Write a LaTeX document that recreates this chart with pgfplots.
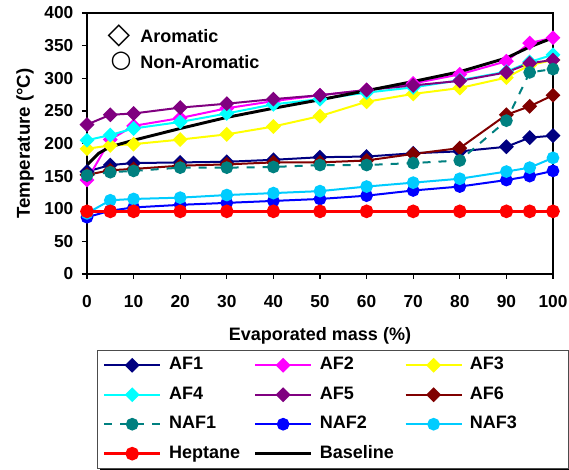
\documentclass[border=0pt]{standalone}
\usepackage{fontspec}
\setmainfont{Liberation Sans}
\newfontfamily\symfont{DejaVu Sans}
\usepackage{pgfplots}
\pgfplotsset{compat=1.18}
\definecolor{cAFa}{RGB}{0,0,128}
\definecolor{cAFb}{RGB}{255,0,255}
\definecolor{cAFc}{RGB}{255,255,0}
\definecolor{cAFd}{RGB}{0,255,255}
\definecolor{cAFe}{RGB}{128,0,128}
\definecolor{cAFf}{RGB}{128,0,0}
\definecolor{cNAFa}{RGB}{0,128,128}
\definecolor{cNAFb}{RGB}{0,0,255}
\definecolor{cNAFc}{RGB}{0,204,255}
\definecolor{cHep}{RGB}{255,0,0}
\begin{document}
\begin{tikzpicture}
\path[use as bounding box] (-65.25pt,-147pt) rectangle (361.5pt,205.5pt);
\begin{axis}[
  at={(0pt,0pt)}, anchor=south west,
  scale only axis, width=349.5pt, height=195.75pt,
  xmin=0, xmax=100, ymin=0, ymax=400,
  xtick={0,10,...,100}, ytick={0,50,...,400},
  tick pos=left, tick align=outside, major tick length=3.75pt,
  every tick/.style={black, line width=1pt},
  axis line style={line width=1.9pt},
  /pgf/number format/assume math mode=true,
  tick label style={font=\bfseries\fontsize{13}{15}\selectfont},
  xticklabel style={yshift=-9pt},
  yticklabel style={xshift=-3pt},
  xlabel={Evaporated mass (\%)},
  ylabel={Temperature (°C)},
  every axis x label/.style={at={(axis description cs:0.5,-0.237)}, anchor=center, font=\bfseries\fontsize{13.5}{16}\selectfont},
  every axis y label/.style={at={(axis description cs:-0.133,0.5)}, anchor=center, rotate=90, font=\bfseries\fontsize{14}{16}\selectfont},
  legend columns=3,
  legend cell align=left,
  legend image code/.code={\draw[mark repeat=2,mark phase=2,#1] plot coordinates {(0pt,0pt) (21pt,0pt) (42pt,0pt)};},
  legend style={at={(axis description cs:0.0215,-0.292)}, anchor=north west,
    name=leg,
    draw=black!70, line width=0.6pt, fill=white,
    inner xsep=4pt, inner ysep=3.5pt, row sep=7.1pt,
    font=\bfseries\fontsize{13.5}{16}\selectfont,
    nodes={text width=58pt, text height=10pt, text depth=3pt, inner ysep=1pt, inner xsep=2.5pt},
    /tikz/every odd column/.append style={column sep=3pt},
    /tikz/every even column/.append style={column sep=3pt},
    /tikz/column 6/.append style={nodes={text width=67.5pt}}},
  dia/.style={mark=square*, mark size=3.2pt, mark options={rotate=45, solid}},
  cir/.style={mark=*, mark size=4pt, mark options={solid}},
]
\addplot[color=cAFa, line width=1.5pt, dia] coordinates {(0,157)(5,167)(10,170)(20,171)(30,172)(40,175)(50,179)(60,180)(70,185)(80,188)(90,195)(95,209)(100,212)};
\addlegendentry{AF1}
\addplot[color=cAFb, line width=1.5pt, dia] coordinates {(0,144)(5,206)(10,227)(20,239)(30,254)(40,265)(50,274)(60,282)(70,292)(80,306)(90,326)(95,354)(100,362)};
\addlegendentry{AF2}
\addplot[color=cAFc, line width=1.5pt, dia] coordinates {(0,192)(5,197)(10,199)(20,206)(30,214)(40,226)(50,242)(60,264)(70,276)(80,285)(90,301)(95,320)(100,328)};
\addlegendentry{AF3}
\addplot[color=cAFd, line width=1.5pt, dia] coordinates {(0,205)(5,213)(10,223)(20,233)(30,246)(40,260)(50,268)(60,278)(70,286)(80,297)(90,310)(95,325)(100,336)};
\addlegendentry{AF4}
\addplot[color=cAFe, line width=1.5pt, dia] coordinates {(0,229)(5,244)(10,246)(20,255)(30,261)(40,268)(50,274)(60,282)(70,289)(80,296)(90,309)(95,323)(100,328)};
\addlegendentry{AF5}
\addplot[color=cAFf, line width=1.5pt, dia] coordinates {(0,152)(5,159)(10,161)(20,166)(30,168)(40,171)(50,171)(60,174)(70,184)(80,193)(90,244)(95,257)(100,274)};
\addlegendentry{AF6}
\addplot[color=cNAFa, line width=1.5pt, dash pattern=on 6pt off 6pt, cir] coordinates {(0,151)(5,156)(10,158)(20,163)(30,163)(40,164)(50,167)(60,167)(70,170)(80,174)(90,235)(95,309)(100,314)};
\addlegendentry{NAF1}
\addplot[color=cNAFb, line width=1.5pt, cir] coordinates {(0,87)(5,97)(10,102)(20,106)(30,109)(40,112)(50,115)(60,120)(70,128)(80,134)(90,144)(95,150)(100,158)};
\addlegendentry{NAF2}
\addplot[color=cNAFc, line width=1.5pt, cir] coordinates {(0,93)(5,113)(10,115)(20,117)(30,121)(40,124)(50,127)(60,134)(70,140)(80,146)(90,157)(95,163)(100,178)};
\addlegendentry{NAF3}
\addplot[color=cHep, line width=2.2pt, cir] coordinates {(0,96)(5,96)(10,96)(20,96)(30,96)(40,96)(50,96)(60,96)(70,96)(80,96)(90,96)(95,96)(100,96)};
\addlegendentry{Heptane}
\addplot[color=black, line width=2.2pt, no marks] coordinates {(0,167)(2.5,185)(5,195)(10,205)(20,223)(30,240)(40,254)(50,267)(60,281)(70,295)(80,310)(90,331)(95,348)(100,362)};
\addlegendentry{Baseline}
\node[anchor=center, font=\symfont\bfseries\fontsize{22}{22}\selectfont, inner sep=0pt] at (axis cs:6.87,364.8) {◇};
\node[anchor=west, font=\bfseries\fontsize{13.5}{16}\selectfont, inner sep=0pt] at (axis cs:11.4,364.8) {Aromatic};
\node[anchor=center, font=\symfont\bfseries\fontsize{18}{18}\selectfont, inner sep=0pt] at (axis cs:7.3,325.5) {○};
\node[anchor=west, font=\bfseries\fontsize{13.5}{16}\selectfont, inner sep=0pt] at (axis cs:11.4,325.5) {Non-Aromatic};
\end{axis}
\fill[black] ([xshift=2.2pt,yshift=-0.3pt]leg.south west) rectangle ([xshift=2.2pt,yshift=-2.2pt]leg.south east);
\fill[black] ([xshift=0.3pt,yshift=-2.2pt]leg.north east) rectangle ([xshift=2.2pt,yshift=-2.2pt]leg.south east);
\end{tikzpicture}
\end{document}
